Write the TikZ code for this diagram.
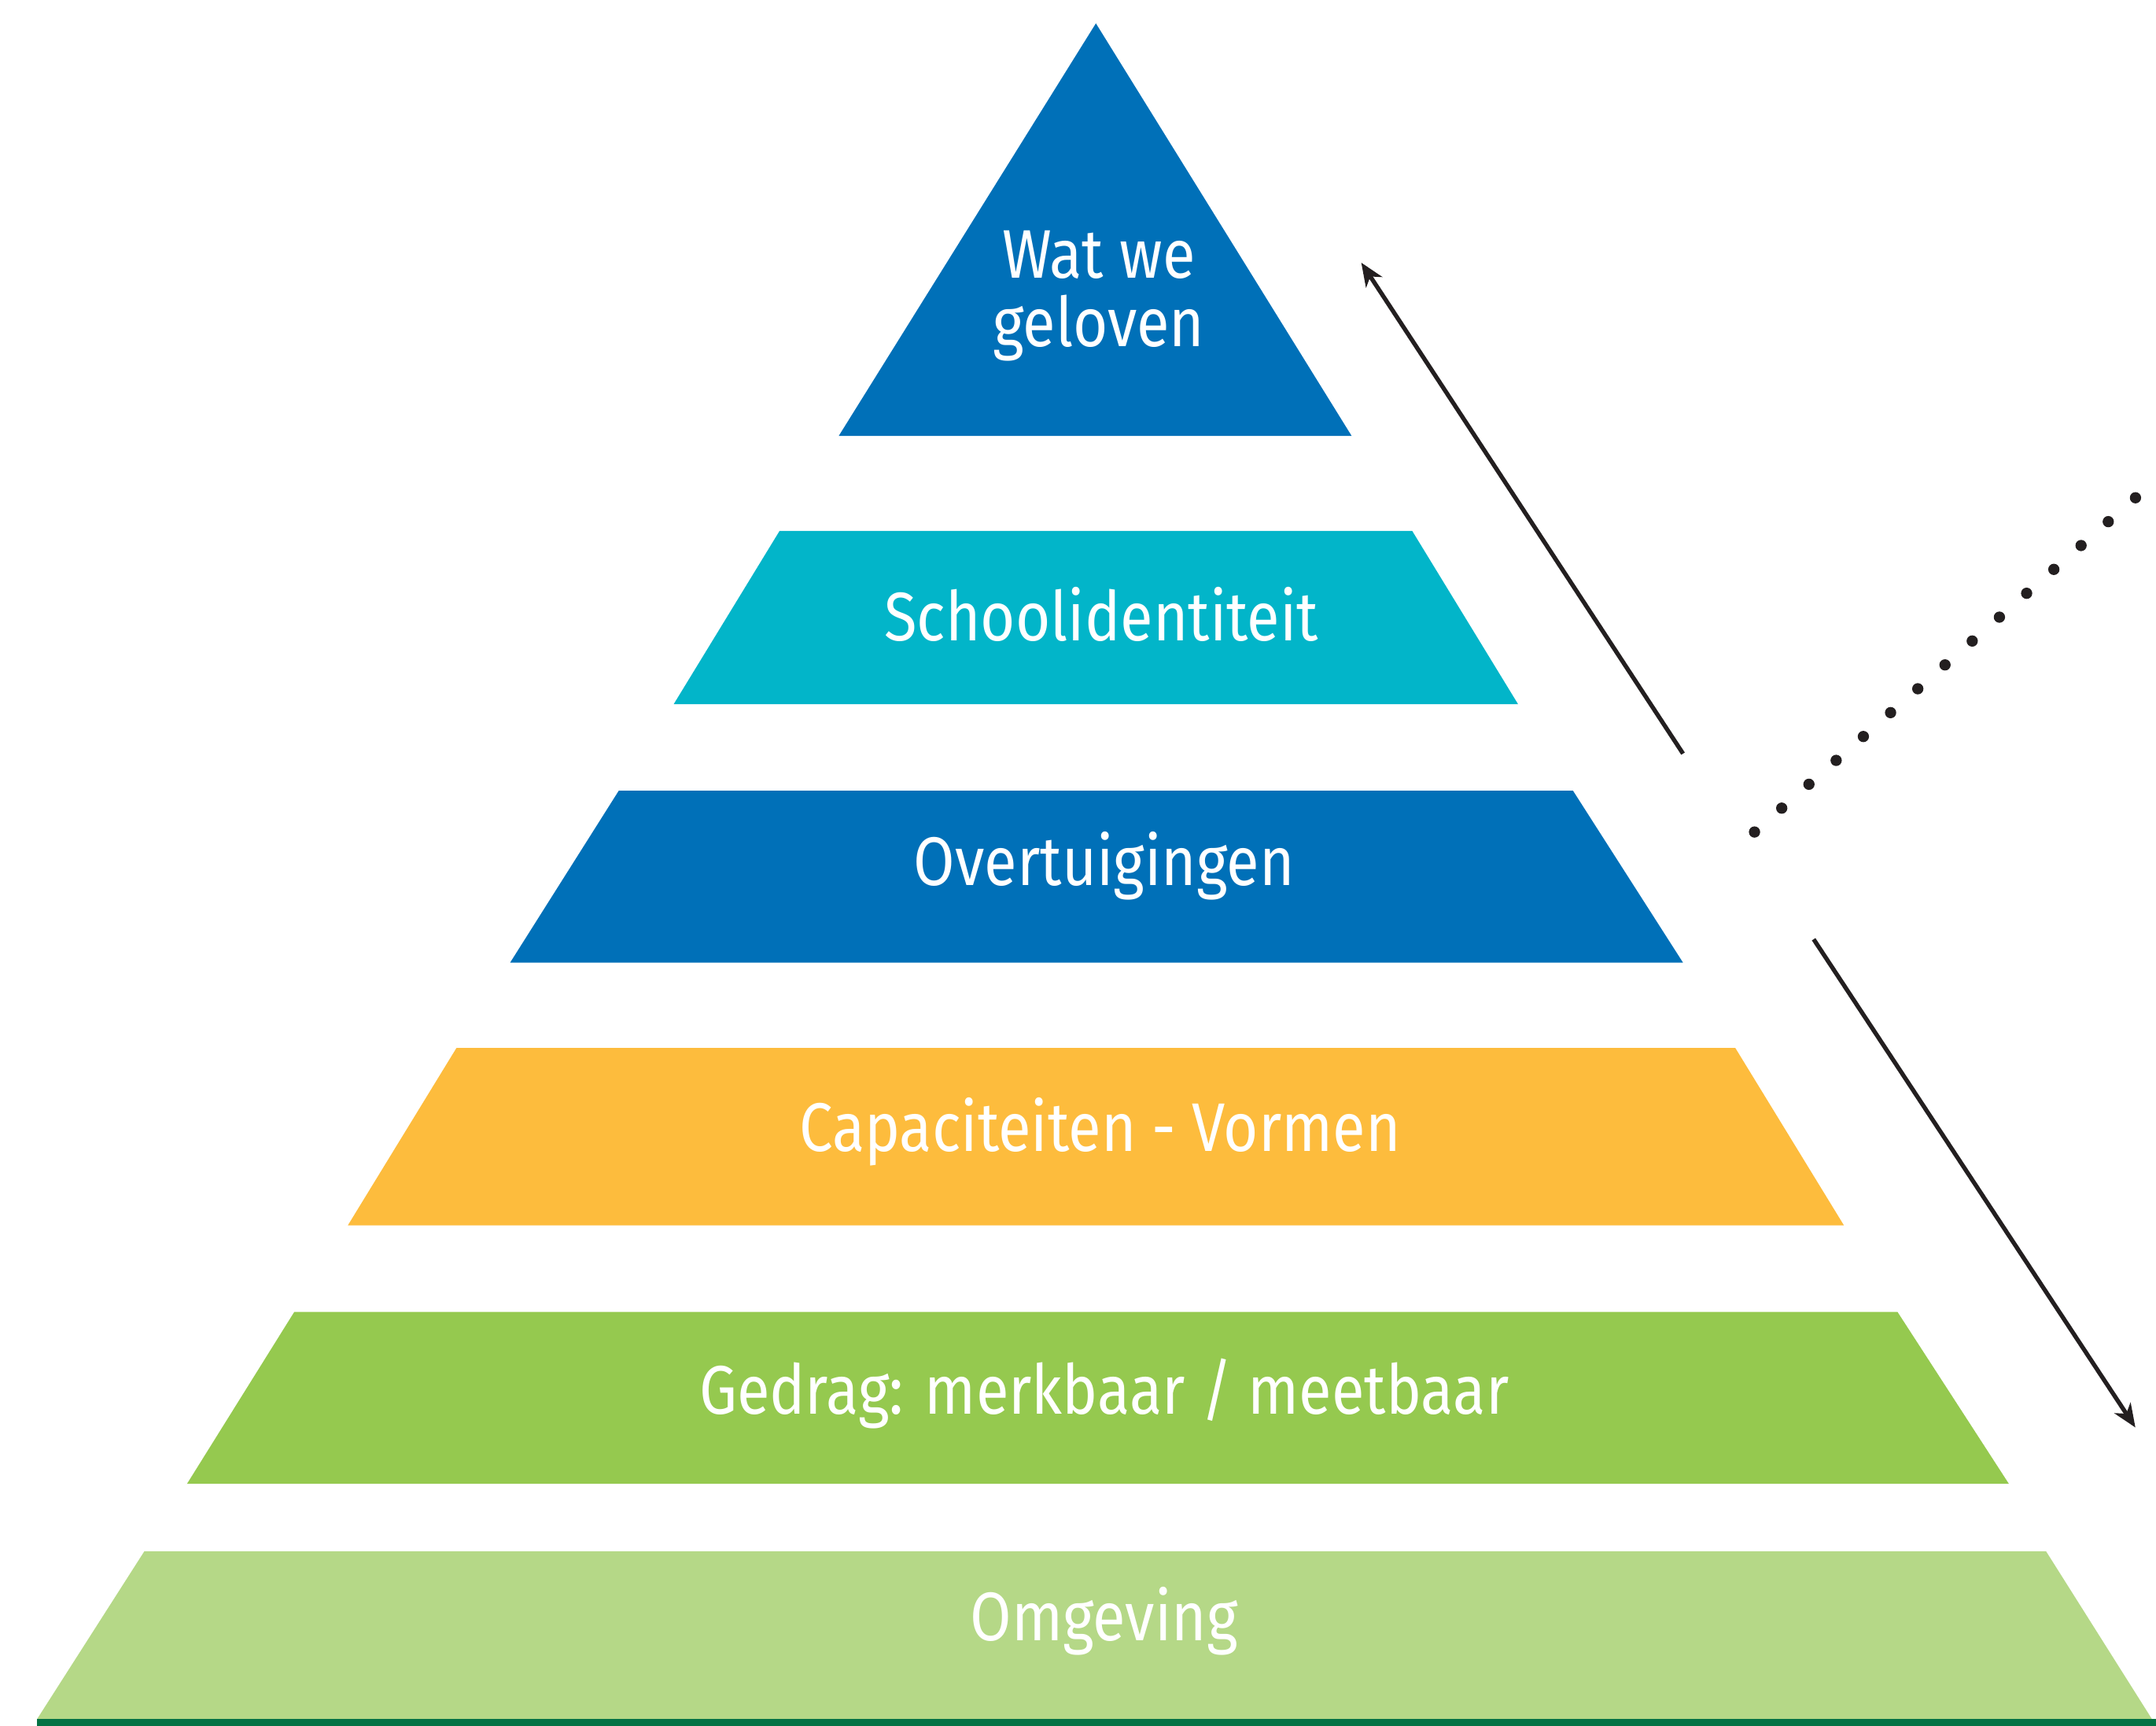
\documentclass[tikz,border=0pt]{standalone}
\usepackage{fontspec}
\setmainfont{Fira Sans}[FakeStretch=0.87]
\usetikzlibrary{arrows.meta}
\definecolor{pblue}{HTML}{0070B8}
\definecolor{pcyan}{HTML}{02B5C9}
\definecolor{pyellow}{HTML}{FDBC3D}
\definecolor{pgreen}{HTML}{95C94F}
\definecolor{plight}{HTML}{B5D887}
\definecolor{pdark}{HTML}{047244}
\definecolor{ink}{HTML}{231F20}
\begin{document}
\begin{tikzpicture}[x=1pt,y=-1pt,
  lbl/.style={text=white, font=\fontsize{50}{50}\selectfont, inner sep=0pt, anchor=base},
  arr/.style={line width=3.1pt, draw=ink, -{Stealth[length=17pt,width=14pt,inset=5pt]}},
  dot/.style={fill=ink}]
\useasboundingbox (0,0) rectangle (1568,1255);
% tiers
\fill[pblue] (797,17) -- (983,317) -- (610,317) -- cycle;
\fill[pcyan] (567,386) -- (1027,386) -- (1104,512) -- (490,512) -- cycle;
\fill[pblue] (450,575) -- (1144,575) -- (1224,700) -- (371,700) -- cycle;
\fill[pyellow] (332,762) -- (1262,762) -- (1341,891) -- (253,891) -- cycle;
\fill[pgreen] (214,954) -- (1380,954) -- (1461,1079) -- (136,1079) -- cycle;
\fill[plight] (105,1128) -- (1488,1128) -- (1565,1250) -- (27,1250) -- cycle;
\fill[pdark] (27,1250) rectangle (1568,1255);
% labels
\node[lbl] (t1) at (799,202) {Wat we};
\node[lbl] (t1b) at (799,252) {geloven};
\node[lbl] (t2) at (801,466) {Schoolidentiteit};
\node[lbl] (t3) at (803,644) {Overtuigingen};
\node[lbl] (t4) at (800,837) {Capaciteiten - Vormen};
\node[lbl] (t5) at (803,1028) {Gedrag: merkbaar / meetbaar};
\node[lbl] (t6) at (803,1193) {Omgeving};
% arrows
\coordinate (u1) at (1224,548);
\coordinate (u2) at (990,191);
\coordinate (d1) at (1319,683);
\coordinate (d2) at (1553,1038);
\draw[arr] (u1) -- (u2);
\draw[arr] (d1) -- (d2);
% dotted line
\foreach \i in {0,...,14} {
  \fill[dot] ({1276+\i*19.79},{605-\i*17.36}) circle (4.1);
}
\end{tikzpicture}
\end{document}
